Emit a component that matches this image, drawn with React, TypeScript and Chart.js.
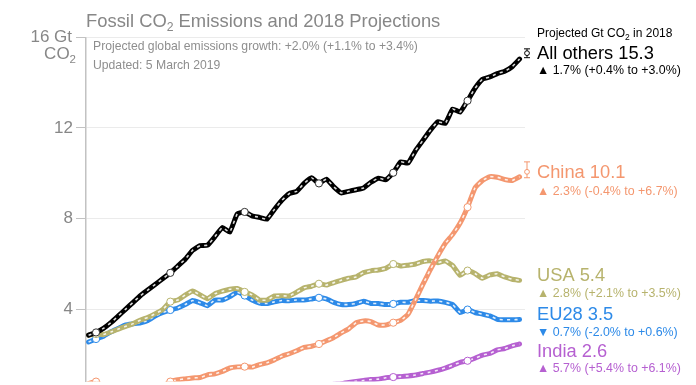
import React, { useEffect, useRef } from 'react';
import { Chart, registerables } from 'chart.js';

Chart.register(...registerables);

const FAMILY = '"Liberation Sans", Arial, Helvetica, sans-serif';

const years = [
  1959, 1960, 1961, 1962, 1963, 1964, 1965, 1966, 1967, 1968, 1969,
  1970, 1971, 1972, 1973, 1974, 1975, 1976, 1977, 1978, 1979,
  1980, 1981, 1982, 1983, 1984, 1985, 1986, 1987, 1988, 1989,
  1990, 1991, 1992, 1993, 1994, 1995, 1996, 1997, 1998, 1999,
  2000, 2001, 2002, 2003, 2004, 2005, 2006, 2007, 2008, 2009,
  2010, 2011, 2012, 2013, 2014, 2015, 2016, 2017,
];

const allOthers = [
  2.85, 2.97, 3.15, 3.4, 3.7, 4.0, 4.3, 4.6, 4.85, 5.1, 5.35,
  5.6, 5.9, 6.2, 6.6, 6.8, 6.82, 7.2, 7.6, 7.4, 8.2,
  8.29, 8.12, 8.05, 7.97, 8.4, 8.8, 9.1, 9.2, 9.55, 9.8,
  9.55, 9.74, 9.4, 9.13, 9.2, 9.27, 9.35, 9.6, 9.78, 9.71,
  10.02, 10.5, 10.45, 11.0, 11.45, 11.9, 12.27, 12.2, 12.83, 12.7,
  13.2, 13.75, 14.15, 14.25, 14.4, 14.5, 14.7, 15.04,
];

const china = [
  0.72, 0.8, 0.55, 0.45, 0.45, 0.45, 0.49, 0.53, 0.45, 0.49, 0.6,
  0.8, 0.88, 0.92, 0.96, 0.98, 1.1, 1.14, 1.25, 1.4, 1.45,
  1.46, 1.44, 1.55, 1.63, 1.76, 1.92, 2.03, 2.16, 2.31, 2.36,
  2.46, 2.6, 2.75, 2.95, 3.13, 3.4, 3.48, 3.45, 3.3, 3.3,
  3.4, 3.5, 3.78, 4.42, 5.1, 5.75, 6.35, 6.9, 7.3, 7.8,
  8.5, 9.35, 9.68, 9.85, 9.82, 9.72, 9.68, 9.84,
];

const usa = [
  2.85, 2.9, 2.88, 2.99, 3.12, 3.24, 3.36, 3.52, 3.64, 3.8, 3.99,
  4.33, 4.4, 4.62, 4.8, 4.63, 4.46, 4.68, 4.79, 4.88, 4.91,
  4.76, 4.63, 4.4, 4.4, 4.58, 4.59, 4.58, 4.75, 4.94, 5.01,
  5.12, 5.06, 5.17, 5.27, 5.36, 5.42, 5.61, 5.69, 5.73, 5.8,
  5.99, 5.9, 5.94, 5.99, 6.1, 6.13, 6.05, 6.13, 5.92, 5.49,
  5.7, 5.57, 5.36, 5.51, 5.56, 5.42, 5.32, 5.27,
];

const eu28 = [
  2.55, 2.68, 2.8, 3.0, 3.15, 3.3, 3.35, 3.4, 3.5, 3.7, 3.85,
  3.96, 4.05, 4.2, 4.38, 4.28, 4.15, 4.4, 4.4, 4.55, 4.75,
  4.6, 4.4, 4.27, 4.25, 4.32, 4.38, 4.37, 4.4, 4.4, 4.45,
  4.5, 4.45, 4.3, 4.2, 4.2, 4.25, 4.35, 4.25, 4.25, 4.2,
  4.23, 4.3, 4.3, 4.38, 4.38, 4.35, 4.36, 4.3, 4.2, 3.85,
  3.98, 3.85, 3.78, 3.7, 3.55, 3.53, 3.53, 3.54,
];

const india = [
  0.11, 0.12, 0.13, 0.14, 0.15, 0.15, 0.17, 0.18, 0.18, 0.19, 0.2,
  0.2, 0.21, 0.22, 0.23, 0.24, 0.26, 0.28, 0.29, 0.3, 0.31,
  0.3, 0.33, 0.35, 0.38, 0.4, 0.43, 0.46, 0.49, 0.53, 0.58,
  0.6, 0.64, 0.68, 0.71, 0.76, 0.81, 0.85, 0.89, 0.91, 0.97,
  1.0, 1.02, 1.05, 1.09, 1.16, 1.22, 1.3, 1.4, 1.52, 1.65,
  1.72, 1.83, 1.97, 2.04, 2.2, 2.26, 2.38, 2.46,
];

const seriesNames = ['All others', 'China', 'USA', 'EU28', 'India'];
const projYear = 2018;
const projected = [15.3, 10.06, 5.42, 3.51, 2.6];
const projLow = [15.1, 9.8, 5.38, 3.45, 2.59];
const projHigh = [15.49, 10.5, 5.45, 3.54, 2.61];
const projLabels = ['15.3', '10.1', '5.4', '3.5', '2.6'];
const growthTexts = [
  '▲ 1.7% (+0.4% to +3.0%)',
  '▲ 2.3% (-0.4% to +6.7%)',
  '▲ 2.8% (+2.1% to +3.5%)',
  '▼ 0.7% (-2.0% to +0.6%)',
  '▲ 5.7% (+5.4% to +6.1%)',
];
const yTicks = [4, 8, 12, 16];
const decadeYears = [1960, 1970, 1980, 1990, 2000, 2010];

const colors = ['#000000', '#f4976f', '#b7b36d', '#2d8ae8', '#b660d1'];
const GREY = '#878787';

type Part = [string, number, number?];

function drawRich(ctx: CanvasRenderingContext2D, parts: Part[], x: number, y: number, align: 'left' | 'right', color: string) {
  ctx.save();
  ctx.fillStyle = color;
  ctx.textBaseline = 'alphabetic';
  ctx.textAlign = 'left';
  let total = 0;
  for (const [t, s] of parts) {
    ctx.font = `${s}px ${FAMILY}`;
    total += ctx.measureText(t).width;
  }
  let cx = align === 'right' ? x - total : x;
  for (const [t, s, dy] of parts) {
    ctx.font = `${s}px ${FAMILY}`;
    ctx.fillText(t, cx, y + (dy || 0));
    cx += ctx.measureText(t).width;
  }
  ctx.restore();
}

const labelBase = [
  [58.5, 74],
  [178.3, 195],
  [280.7, 296.7],
  [320, 336],
  [356.7, 371.7],
];

const textPlugin = {
  id: 'texts',
  beforeDatasetsDraw(chart: any) {
    const ctx = chart.ctx as CanvasRenderingContext2D;
    const xs = chart.scales.x;
    const ys = chart.scales.y;
    ctx.save();
    ctx.lineWidth = 1;
    projected.forEach((_, k) => {
      const px = xs.getPixelForValue(projYear);
      const yl = ys.getPixelForValue(projLow[k]);
      const yh = ys.getPixelForValue(projHigh[k]);
      if (Math.abs(yl - yh) < 7) return;
      ctx.strokeStyle = colors[k];
      ctx.beginPath();
      ctx.moveTo(px, yl); ctx.lineTo(px, yh);
      ctx.moveTo(px - 3, yl); ctx.lineTo(px + 3, yl);
      ctx.moveTo(px - 3, yh); ctx.lineTo(px + 3, yh);
      ctx.stroke();
    });
    ctx.restore();
  },
  afterDraw(chart: any) {
    const ctx = chart.ctx as CanvasRenderingContext2D;
    drawRich(ctx, [['Fossil CO', 18.4], ['2', 12.2, 4], [' Emissions and 2018 Projections', 18.4]], 86, 26.7, 'left', GREY);
    drawRich(ctx, [['Projected global emissions growth: +2.0% (+1.1% to +3.4%)', 12.2]], 93, 49.5, 'left', '#8e8e8e');
    drawRich(ctx, [['Updated: 5 March 2019', 12.2]], 93, 68.5, 'left', '#8e8e8e');
    drawRich(ctx, [['16 Gt', 17]], 72, 42, 'right', GREY);
    drawRich(ctx, [['CO', 17], ['2', 11.5, 4]], 76, 58.5, 'right', GREY);
    drawRich(ctx, [['Projected Gt CO', 12], ['2', 8.5, 3], [' in 2018', 12]], 537, 37.3, 'left', '#000');
    seriesNames.forEach((name, k) => {
      drawRich(ctx, [[`${name} ${projLabels[k]}`, 18.3]], 537, labelBase[k][0], 'left', colors[k]);
      drawRich(ctx, [[growthTexts[k], 12.4]], 537, labelBase[k][1], 'left', colors[k]);
    });
  },
};

export default function App() {
  const ref = useRef<HTMLCanvasElement | null>(null);

  useEffect(() => {
    if (!ref.current) return;
    const seriesData = [allOthers, china, usa, eu28, india];
    const datasets: any[] = [];
    seriesData.forEach((vals, k) => {
      const pts = years.map((yr, i) => ({ x: yr, y: vals[i] }));
      datasets.push({
        label: seriesNames[k] + ' marks',
        data: pts,
        borderColor: 'rgba(255,255,255,0.85)',
        borderWidth: 1.6,
        borderDash: [3, 4.4],
        tension: 0.12,
        pointRadius: (c: any) => (c.raw && decadeYears.includes(c.raw.x) ? 3.6 : 0),
        pointHoverRadius: 0,
        pointBackgroundColor: '#ffffff',
        pointBorderColor: k === 0 ? '#333333' : colors[k],
        pointBorderWidth: 1,
        order: 2 * k,
      });
      datasets.push({
        label: seriesNames[k],
        data: pts,
        borderColor: colors[k],
        borderWidth: 5,
        borderJoinStyle: 'round',
        borderCapStyle: 'round',
        tension: 0.12,
        pointRadius: 0,
        pointHoverRadius: 0,
        order: 2 * k + 1,
      });
    });
    datasets.push({
      label: 'Projection 2018',
      data: projected.map((v) => ({ x: projYear, y: v })),
      showLine: false,
      pointRadius: 2.4,
      pointHoverRadius: 0,
      pointBackgroundColor: '#ffffff',
      pointBorderColor: colors,
      pointBorderWidth: 1,
      clip: false,
      order: -1,
    });

    const chart = new Chart(ref.current, {
      type: 'line',
      data: { datasets },
      options: {
        animation: false,
        responsive: false,
        events: [],
        layout: { padding: { top: 37.3, right: 171, bottom: 0, left: 0 } },
        plugins: { legend: { display: false }, tooltip: { enabled: false }, title: { display: false } },
        scales: {
          x: { type: 'linear', min: 1958.65, max: 2017.73, display: false },
          y: {
            type: 'linear',
            min: 0.8,
            max: 16,
            afterBuildTicks: (s: any) => { s.ticks = yTicks.map((v) => ({ value: v })); },
            afterFit: (s: any) => { s.width = 86; s.paddingTop = 0; s.paddingBottom = 0; },
            grid: { color: '#ebebeb', lineWidth: 1, tickLength: 10, tickColor: '#c2c2c2', drawTicks: true },
            border: { display: true, color: '#c2c2c2', width: 1.5 },
            ticks: {
              padding: 3,
              color: GREY,
              font: { size: 17, family: FAMILY },
              callback: (v: any) => (v === 16 ? '' : String(v)),
            },
          },
        },
      } as any,
      plugins: [textPlugin],
    });
    return () => chart.destroy();
  }, []);

  return (
    <div style={{ position: 'fixed', left: 0, top: 0, width: 696, height: 385, background: '#ffffff' }}>
      <canvas ref={ref} width={696} height={385} />
    </div>
  );
}
